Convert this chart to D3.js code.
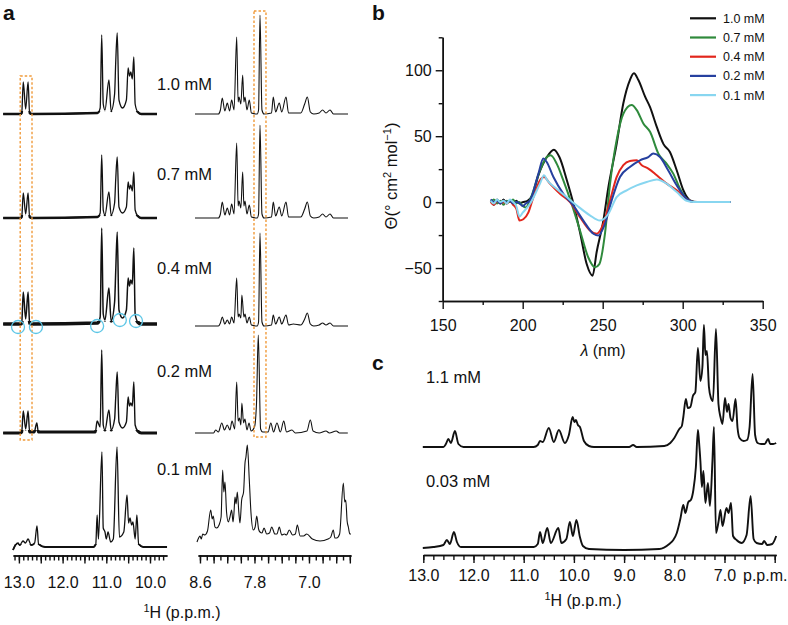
<!DOCTYPE html>
<html><head><meta charset="utf-8">
<script src="https://cdn.jsdelivr.net/npm/d3@7"></script>
<style>
body{margin:0;background:#fff}
svg text{font-family:"Liberation Sans",Arial,Helvetica,sans-serif;fill:#111}
</style>
</head><body>
<svg id="fig" width="788" height="625"></svg>
<script>
// ---------------- DATA ----------------
// Panel a: 1H NMR spectra at five concentrations, [ppm, intensity]
const concA = ["1.0 mM","0.7 mM","0.4 mM","0.2 mM","0.1 mM"];
const aLeft10 = [[13.36,0],[12.96,0],[12.935,1],[12.90,32],[12.845,5],[12.79,32],[12.755,1],[12.70,0],[11.20,1],[11.14,6],[11.105,79],[11.07,10],[11.03,4],[10.94,34],[10.89,3],[10.81,20],[10.785,51],[10.75,81],[10.71,14],[10.63,6],[10.54,14],[10.50,46],[10.47,38],[10.44,42],[10.405,35],[10.37,57],[10.34,10],[10.28,2],[10.20,0],[9.84,0]];
const aLeft07 = [[13.36,0],[12.96,0],[12.935,1],[12.90,25],[12.845,4],[12.79,25],[12.755,1],[12.70,0],[11.20,1],[11.14,5],[11.105,63],[11.07,8],[11.03,3],[10.94,26],[10.89,3],[10.81,15],[10.785,38],[10.75,61],[10.71,11],[10.63,5],[10.54,11],[10.50,36],[10.47,29],[10.44,33],[10.405,27],[10.37,46],[10.34,8],[10.28,2],[10.20,0],[9.84,0]];
const aLeft04 = [[13.36,0],[12.96,0],[12.935,1],[12.90,32],[12.845,5],[12.79,32],[12.755,1],[12.70,0],[11.20,1],[11.14,7],[11.105,96],[11.07,10],[11.03,4],[10.94,36],[10.89,3],[10.81,22],[10.785,52],[10.75,92],[10.71,14],[10.63,6],[10.54,14],[10.50,46],[10.47,38],[10.44,44],[10.405,40],[10.37,76],[10.34,10],[10.28,2],[10.20,0],[9.84,0]];
const aLeft02 = [[13.36,0],[12.96,0],[12.935,1],[12.90,22],[12.845,4],[12.79,22],[12.755,1],[12.65,1],[12.59,10],[12.555,1],[11.25,1],[11.21,12],[11.14,6],[11.105,83],[11.07,8],[11.03,3],[10.94,23],[10.89,3],[10.81,14],[10.785,35],[10.75,61],[10.71,11],[10.63,5],[10.54,11],[10.50,36],[10.47,27],[10.44,30],[10.405,27],[10.37,51],[10.34,8],[10.28,2],[10.20,0],[9.84,0]];
const aLeft01 = [[13.135,-3],[13.08,2],[13.02,4],[12.98,2],[12.906,6],[12.85,4],[12.79,8],[12.72,2],[12.64,4],[12.586,21],[12.55,3],[12.40,0],[11.30,0],[11.24,3],[11.21,32],[11.18,8],[11.10,95],[11.07,19],[11.03,15],[11.00,8],[10.96,15],[10.90,5],[10.84,8],[10.755,100],[10.70,10],[10.60,15],[10.526,52],[10.49,24],[10.458,29],[10.42,22],[10.39,25],[10.34,8],[10.30,32],[10.26,3],[10.15,0],[9.61,0]];

const aRight10 = [[8.673,0],[8.33,0],[8.30,4],[8.273,16],[8.235,3],[8.199,11],[8.165,3],[8.135,14],[8.10,4],[8.061,77],[8.04,12],[8.027,17],[8.00,10],[7.973,39],[7.955,12],[7.939,17],[7.91,4],[7.876,14],[7.845,1],[7.76,0],[7.74,4],[7.719,99],[7.69,4],[7.66,0],[7.55,1],[7.524,17],[7.49,2],[7.436,11],[7.40,2],[7.337,17],[7.30,1],[7.12,1],[7.063,10],[7.024,17],[6.98,2],[6.93,0],[6.85,1],[6.80,4],[6.75,1],[6.691,4],[6.64,0],[6.427,0]];
const aRight07 = [[8.673,0],[8.33,0],[8.30,4],[8.273,16],[8.235,3],[8.199,10],[8.165,3],[8.135,14],[8.10,4],[8.061,75],[8.04,12],[8.027,17],[8.00,10],[7.973,46],[7.955,12],[7.939,17],[7.91,4],[7.876,13],[7.845,1],[7.76,0],[7.74,4],[7.719,93],[7.69,4],[7.66,0],[7.55,1],[7.524,16],[7.49,2],[7.436,11],[7.40,2],[7.337,16],[7.30,1],[7.12,1],[7.063,9],[7.024,16],[6.98,2],[6.93,0],[6.85,1],[6.80,4],[6.75,1],[6.691,4],[6.64,0],[6.427,0]];
const aRight04 = [[8.673,0],[8.33,0],[8.30,3],[8.273,9],[8.235,2],[8.199,6],[8.165,2],[8.135,9],[8.10,3],[8.061,48],[8.04,9],[8.027,12],[8.00,8],[7.985,31],[7.955,9],[7.939,12],[7.91,3],[7.876,9],[7.845,1],[7.76,0],[7.74,4],[7.719,93],[7.69,4],[7.66,0],[7.55,1],[7.524,11],[7.49,2],[7.436,9],[7.40,2],[7.337,11],[7.30,1],[7.23,2],[7.12,1],[7.063,7],[7.024,13],[6.98,2],[6.93,0],[6.85,1],[6.80,3],[6.75,1],[6.691,3],[6.64,0],[6.427,0]];
const aRight02 = [[8.673,0],[8.40,0],[8.37,3],[8.33,1],[8.28,10],[8.24,3],[8.20,8],[8.16,3],[8.13,12],[8.09,4],[8.061,51],[8.04,12],[8.02,15],[8.00,8],[7.985,30],[7.96,10],[7.94,14],[7.91,3],[7.88,10],[7.85,2],[7.80,6],[7.77,30],[7.744,98],[7.71,4],[7.68,1],[7.60,1],[7.56,10],[7.52,1],[7.47,10],[7.42,1],[7.37,12],[7.33,1],[7.25,3],[7.20,0],[7.03,2],[6.98,13],[6.94,2],[6.85,0],[6.75,2],[6.70,0],[6.60,2],[6.55,0],[6.43,0]];
const aRight01 = [[8.644,-5],[8.62,-1],[8.60,1],[8.58,-2],[8.56,3],[8.53,2],[8.49,6],[8.443,27],[8.42,18],[8.405,21],[8.38,10],[8.355,9],[8.32,12],[8.29,20],[8.267,67],[8.25,45],[8.233,55],[8.21,25],[8.184,15],[8.16,20],[8.135,27],[8.115,15],[8.10,25],[8.086,40],[8.07,33],[8.052,45],[8.03,25],[8.013,14],[7.988,37],[7.96,45],[7.939,74],[7.925,80],[7.905,92],[7.876,57],[7.851,24],[7.817,7],[7.79,10],[7.767,21],[7.74,8],[7.719,5],[7.69,4],[7.66,9],[7.62,3],[7.58,4],[7.547,10],[7.50,3],[7.47,3],[7.436,10],[7.40,2],[7.36,3],[7.33,2],[7.289,7],[7.24,2],[7.20,3],[7.171,12],[7.13,1],[7.08,1],[7.033,3],[6.95,-2],[6.838,-4],[6.72,-2],[6.68,0],[6.643,7],[6.62,-1],[6.593,-1],[6.55,3],[6.496,54],[6.475,35],[6.46,37],[6.44,16],[6.422,10],[6.40,3],[6.383,3]];
// orange highlight ranges (ppm) and cyan marks (ppm, intensity) on the 0.4 mM trace
const boxLeftPpm = [12.97, 12.70];
const boxRightPpm = [7.807, 7.631];
const circles04 = [[13.02,-3],[12.61,-3],[11.21,-2],[10.69,4],[10.32,3]];
const aLeftTickLabels = [13.0, 12.0, 11.0, 10.0];
const aRightTickLabels = [8.6, 7.8, 7.0];

// Panel b: CD spectra, [wavelength nm, theta]
const concB = ["1.0 mM","0.7 mM","0.4 mM","0.2 mM","0.1 mM"];
const cd10 = [[180,1],[182,-2],[184,2],[186,-1],[188,2],[190,-1],[192,1],[194,-1],[196,1],[198,-1],[200,0],[203,1],[206,5],[210,21],[215,34],[219.5,39.8],[223,34],[227.5,17],[232,-2.5],[236,-24],[240,-47],[243.7,-55.8],[246.2,-38],[250.4,-14],[253.5,11],[258.7,44],[262.9,75],[267,92.6],[269.5,97.7],[272.3,92.6],[276.5,80],[279.6,72],[283.8,57],[288,44],[292,38],[296.3,24],[300.4,9],[304.6,1.3],[309,0],[330,0]];
const cd07 = [[180,0],[182,2],[184,-1],[186,1],[188,-2],[190,1],[192,0],[194,2],[196,-1],[198,0],[200,-3],[202,-4],[205,3],[210.8,24],[215,34],[217.5,35.5],[221.3,29],[225.4,16.5],[230.6,-1.3],[235.8,-21.5],[241,-42],[245.2,-49.4],[247.9,-47],[251.4,-24],[254.6,14],[258.7,47],[262.9,67],[268.1,73.6],[271.3,69.8],[275.4,59.7],[279.6,53.3],[284.8,36.8],[290,29],[294.1,21.6],[298.3,10.2],[302.5,2.5],[307,0],[330,0]];
const cd04 = [[180,0],[182,-2],[184,1],[186,-1],[188,0],[190,-1],[192,1],[194,-2],[196,-5],[198,-14],[200.4,-13],[203.5,-8],[206.7,3.8],[210.8,16.5],[213.3,19],[217,14],[223.3,6.3],[229.6,0],[235.8,-11.4],[242,-21.5],[246.2,-24],[250.4,-16.5],[254.6,1.3],[258.7,19],[262.9,28],[267,31.2],[271.3,31.7],[274.4,28],[278.5,25.4],[283.8,20.3],[290,14],[296.3,8.9],[302.5,2.5],[307,0],[330,0]];
const cd02 = [[180,2],[182,0],[184,1],[186,-1],[188,1],[190,0],[192,1],[194,-1],[196,0],[198,-1],[200,-3],[202,-1],[204.6,1.3],[209.8,21.5],[212.9,33],[215,30.4],[219.2,19],[225.4,6.3],[231.6,-2.5],[237.9,-14],[244.2,-24],[247.3,-25.4],[251.4,-16.5],[255.6,1.3],[260.8,19],[267,26.6],[273.3,31.7],[278.5,34.2],[281.6,36.8],[285.8,34.2],[291,24],[296.3,12.7],[302.5,2.5],[307,0],[330,0]];
const cd01 = [[180,1],[182,-1],[184,2],[186,0],[188,1],[190,-1],[192,2],[194,0],[196,-3],[198,-11],[200,-8],[204.6,-1.3],[210.8,14],[213.3,20.3],[215.4,16.5],[221.3,10],[227.5,3.8],[233.8,-2.5],[242,-10],[248.3,-14],[253.5,-9],[258.7,3.8],[265,8.9],[271.3,12.7],[277.5,15.2],[283.8,17.2],[290,14],[296.3,7.6],[302.5,1],[307,0],[330,0]];
const bXTicks = [150, 200, 250, 300, 350];
const bYTicks = [-50, 0, 50, 100];

// Panel c: 1H NMR at 1.1 mM and 0.03 mM, [ppm, intensity]
const concC = ["1.1 mM","0.03 mM"];
const c11 = [[13.01,0],[12.60,0],[12.55,3],[12.50,8],[12.45,4],[12.37,16],[12.30,3],[12.20,0],[10.80,0],[10.72,2],[10.675,6],[10.62,5],[10.50,19],[10.40,5],[10.30,17],[10.18,4],[10.10,12],[10.025,30],[9.99,25],[9.96,27],[9.92,22],[9.88,20],[9.80,6],[9.70,1],[9.60,0],[8.90,0],[8.82,2],[8.75,0],[8.20,1],[8.08,4],[8.00,9],[7.90,18],[7.85,21],[7.82,30],[7.77,48],[7.73,39],[7.68,40],[7.63,51],[7.58,55],[7.53,99],[7.48,66],[7.44,80],[7.41,122],[7.38,92],[7.35,96],[7.31,60],[7.27,49],[7.23,46],[7.17,118],[7.12,43],[7.08,30],[7.04,23],[6.99,49],[6.95,35],[6.92,43],[6.88,29],[6.84,26],[6.78,48],[6.74,19],[6.70,9],[6.62,6],[6.55,7],[6.50,20],[6.44,73],[6.39,12],[6.34,4],[6.27,3],[6.20,3],[6.13,8],[6.09,3],[6.03,3],[5.97,4]];
const c003 = [[13.01,-1],[12.80,0],[12.60,2],[12.53,7],[12.47,3],[12.39,15],[12.33,5],[12.25,0],[10.80,0],[10.72,3],[10.675,15],[10.62,4],[10.53,19],[10.46,4],[10.31,19],[10.25,4],[10.15,8],[10.08,25],[10.02,11],[9.95,27],[9.88,10],[9.82,1],[9.70,-2],[9.00,-3],[8.30,-2],[8.10,3],[8.02,7],[7.95,14],[7.88,28],[7.82,42],[7.78,34],[7.72,45],[7.67,47],[7.62,57],[7.57,80],[7.53,117],[7.51,107],[7.48,86],[7.45,60],[7.42,76],[7.38,44],[7.33,64],[7.29,41],[7.24,86],[7.21,120],[7.17,14],[7.12,25],[7.08,37],[7.04,21],[6.96,39],[6.92,34],[6.87,44],[6.83,11],[6.76,7],[6.66,4],[6.56,12],[6.48,51],[6.42,8],[6.36,4],[6.25,3],[6.21,6],[6.15,2],[6.05,3],[5.97,11]];
const cTickLabels = [13, 12, 11, 10, 9, 8, 7];

// ---------------- LAYOUT / STYLE ----------------
const svg = d3.select("#fig");
const INK = "#111";
const cdColors = ["#111111", "#2f8a3c", "#e2261c", "#26409f", "#88d6f0"];
const orange = "#f09a3a", cyan = "#5cc6e6";
const defs = svg.append("defs");

// ---- Panel a ----
const xL = d3.scaleLinear().domain([13.135, 9.611]).range([13, 167]);
const xR = d3.scaleLinear().domain([8.629, 6.383]).range([198, 351]);
const rowsA = [
  {data:[aLeft10, aRight10], base:[114,114], w:[1.3,1.1], band:2.4, labelY:90},
  {data:[aLeft07, aRight07], base:[218,218], w:[1.3,1.1], band:2.4, labelY:180},
  {data:[aLeft04, aRight04], base:[324,326], w:[1.5,1.1], band:3.6, labelY:274},
  {data:[aLeft02, aRight02], base:[433,433], w:[1.4,1.1], band:3.0, labelY:377},
  {data:[aLeft01, aRight01], base:[547,537], w:[1.3,1.1], band:1.9, labelY:475}
];
const gA = svg.append("g");
rowsA.forEach((r, i) => {
  [xL, xR].forEach((xs, k) => {
    const y = d3.scaleLinear().domain([0, 100]).range([r.base[k], r.base[k] - 100]);
    const line = d3.line().x(d => xs(d[0])).y(d => y(d[1])).curve(d3.curveMonotoneX);
    gA.append("path").datum(r.data[k]).attr("d", line)
      .attr("fill", "none").attr("stroke", INK).attr("stroke-width", r.w[k]).attr("stroke-linejoin","round");
    if (k === 0) {
      // heavier, noisy-looking baseline of the low-field traces
      const id = "band" + i;
      defs.append("clipPath").attr("id", id).append("rect")
        .attr("x", 0).attr("width", 180).attr("y", r.base[k] - 3).attr("height", 7);
      gA.append("path").datum(r.data[k]).attr("d", line).attr("clip-path", `url(#${id})`)
        .attr("fill", "none").attr("stroke", INK).attr("stroke-width", r.band).attr("stroke-linejoin","round");
    }
  });
  gA.append("text").attr("x", 157).attr("y", r.labelY).attr("font-size", 16.5).text(concA[i]);
});
// orange dashed boxes
gA.append("rect").attr("x", xL(boxLeftPpm[0])).attr("y", 76)
  .attr("width", xL(boxLeftPpm[1]) - xL(boxLeftPpm[0])).attr("height", 364)
  .attr("fill","none").attr("stroke",orange).attr("stroke-width",1.4).attr("stroke-dasharray","2.5,2");
gA.append("rect").attr("x", xR(boxRightPpm[0])).attr("y", 11)
  .attr("width", xR(boxRightPpm[1]) - xR(boxRightPpm[0])).attr("height", 426)
  .attr("fill","none").attr("stroke",orange).attr("stroke-width",1.4).attr("stroke-dasharray","2.5,2");
// cyan circles on 0.4 mM
const y04 = d3.scaleLinear().domain([0,100]).range([324, 224]);
gA.selectAll("circle.cy").data(circles04).join("circle")
  .attr("cx", d => xL(d[0])).attr("cy", d => y04(d[1])).attr("r", 6.5)
  .attr("fill","none").attr("stroke",cyan).attr("stroke-width",1.3);

function styleAxis(g, fs) {
  g.selectAll("path.domain").attr("stroke", INK).attr("stroke-width", 1.5);
  g.selectAll(".tick line").attr("stroke", INK).attr("stroke-width", 1.4);
  g.selectAll(".tick text").attr("font-size", fs).attr("fill", INK)
    .attr("font-family", '"Liberation Sans",Arial,Helvetica,sans-serif');
  g.attr("font-family", null).attr("font-size", null);
}
function ppmAxis(scale, yPos, minorVals, majorVals, labelVals, minLen, majLen, pad) {
  const g1 = svg.append("g").attr("transform", `translate(0,${yPos})`)
    .call(d3.axisBottom(scale).tickValues(minorVals).tickSize(minLen).tickSizeOuter(0).tickFormat(""));
  styleAxis(g1, 16);
  const g2 = svg.append("g").attr("transform", `translate(0,${yPos})`)
    .call(d3.axisBottom(scale).tickValues(majorVals).tickSize(majLen).tickSizeOuter(0).tickPadding(pad)
      .tickFormat(v => labelVals.some(l => Math.abs(l - v) < 1e-6) ? d3.format(".1f")(v) : ""));
  styleAxis(g2, 16);
  return g2;
}
ppmAxis(xL, 555.5, d3.range(131, 96, -1).map(v => v / 10), d3.range(130, 96, -5).map(v => v / 10),
  aLeftTickLabels, 5, 8, 13);
ppmAxis(xR, 555.5, d3.range(86, 63, -1).map(v => v / 10), d3.range(86, 63, -2).map(v => v / 10),
  aRightTickLabels, 5, 8, 13);
const axA = svg.append("text").attr("x", 182).attr("y", 618).attr("text-anchor","middle").attr("font-size",16);
axA.append("tspan").attr("font-size", 11).attr("dy", -6).text("1");
axA.append("tspan").attr("dy", 6).text("H (p.p.m.)");

// ---- Panel b ----
const xB = d3.scaleLinear().domain([150, 350]).range([442.7, 762.7]);
const yB = d3.scaleLinear().domain([-75, 125]).range([301, 37.3]);
const gbx1 = svg.append("g").attr("transform","translate(0,301)")
  .call(d3.axisBottom(xB).tickValues([175,225,275,325]).tickSize(4).tickSizeOuter(0).tickFormat(""));
styleAxis(gbx1, 16);
const gbx2 = svg.append("g").attr("transform","translate(0,301)")
  .call(d3.axisBottom(xB).tickValues(bXTicks).tickSize(8).tickSizeOuter(0).tickPadding(10.5).tickFormat(d3.format("d")));
styleAxis(gbx2, 16);
const gby1 = svg.append("g").attr("transform","translate(442.7,0)")
  .call(d3.axisLeft(yB).tickValues([-75,-25,25,75,125]).tickSize(4).tickSizeOuter(0).tickFormat(""));
styleAxis(gby1, 16);
const gby2 = svg.append("g").attr("transform","translate(442.7,0)")
  .call(d3.axisLeft(yB).tickValues(bYTicks).tickSize(7).tickSizeOuter(0).tickPadding(4)
    .tickFormat(v => v < 0 ? "\u2212" + Math.abs(v) : String(v)));
styleAxis(gby2, 16);

const cdSeries = [cd10, cd07, cd04, cd02, cd01];
const cdLine = d3.line().x(d => xB(d[0])).y(d => yB(d[1])).curve(d3.curveMonotoneX);
svg.append("g").selectAll("path").data(cdSeries).join("path")
  .attr("d", cdLine).attr("fill","none").attr("stroke", (d,i) => cdColors[i]).attr("stroke-width", 2)
  .attr("stroke-linejoin","round");
// legend
const leg = svg.append("g");
concB.forEach((c, i) => {
  const yy = 18.3 + i * 19.2;
  leg.append("line").attr("x1", 690).attr("x2", 716).attr("y1", yy).attr("y2", yy)
    .attr("stroke", cdColors[i]).attr("stroke-width", 2.2);
  leg.append("text").attr("x", 723).attr("y", yy + 4.5).attr("font-size", 12.5).text(c);
});
const ylB = svg.append("text").attr("transform","translate(396.5,176) rotate(-90)")
  .attr("text-anchor","middle").attr("font-size",16.5);
ylB.append("tspan").text("\u0398(\u00b0 cm");
ylB.append("tspan").attr("font-size",11).attr("dy",-6).text("2");
ylB.append("tspan").attr("dy",6).text(" mol");
ylB.append("tspan").attr("font-size",11).attr("dy",-6).text("\u22121");
ylB.append("tspan").attr("dy",6).text(")");
const xlB = svg.append("text").attr("x", 603).attr("y", 356).attr("text-anchor","middle").attr("font-size",16);
xlB.append("tspan").attr("font-style","italic").text("\u03bb");
xlB.append("tspan").text(" (nm)");

// ---- Panel c ----
const xC = d3.scaleLinear().domain([13.0, 5.97]).range([423.3, 776.2]);
const specC = [{data:c11, base:447, labelY:383}, {data:c003, base:547, labelY:486.5}];
specC.forEach((s, i) => {
  const y = d3.scaleLinear().domain([0,100]).range([s.base, s.base - 100]);
  const line = d3.line().x(d => xC(d[0])).y(d => y(d[1])).curve(d3.curveMonotoneX);
  svg.append("path").datum(s.data).attr("d", line).attr("fill","none")
    .attr("stroke", INK).attr("stroke-width", 1.9).attr("stroke-linejoin","round");
  svg.append("text").attr("x", 426).attr("y", s.labelY).attr("font-size", 16.5).text(concC[i]);
});
ppmAxis(xC, 555, d3.range(130, 59, -2).map(v => v / 10), d3.range(13, 5.5, -1),
  cTickLabels, 5, 8, 6.3);
svg.append("text").attr("x", 743).attr("y", 580.7).attr("font-size", 16).text("p.p.m.");
const axC = svg.append("text").attr("x", 583).attr("y", 606).attr("text-anchor","middle").attr("font-size",16);
axC.append("tspan").attr("font-size", 11).attr("dy", -6).text("1");
axC.append("tspan").attr("dy", 6).text("H (p.p.m.)");

// ---- panel letters ----
[["a",3,20],["b",372,20],["c",372,370]].forEach(([t,x,y]) =>
  svg.append("text").attr("x",x).attr("y",y).attr("font-size",21).attr("font-weight","bold").text(t));
</script>
</body></html>
